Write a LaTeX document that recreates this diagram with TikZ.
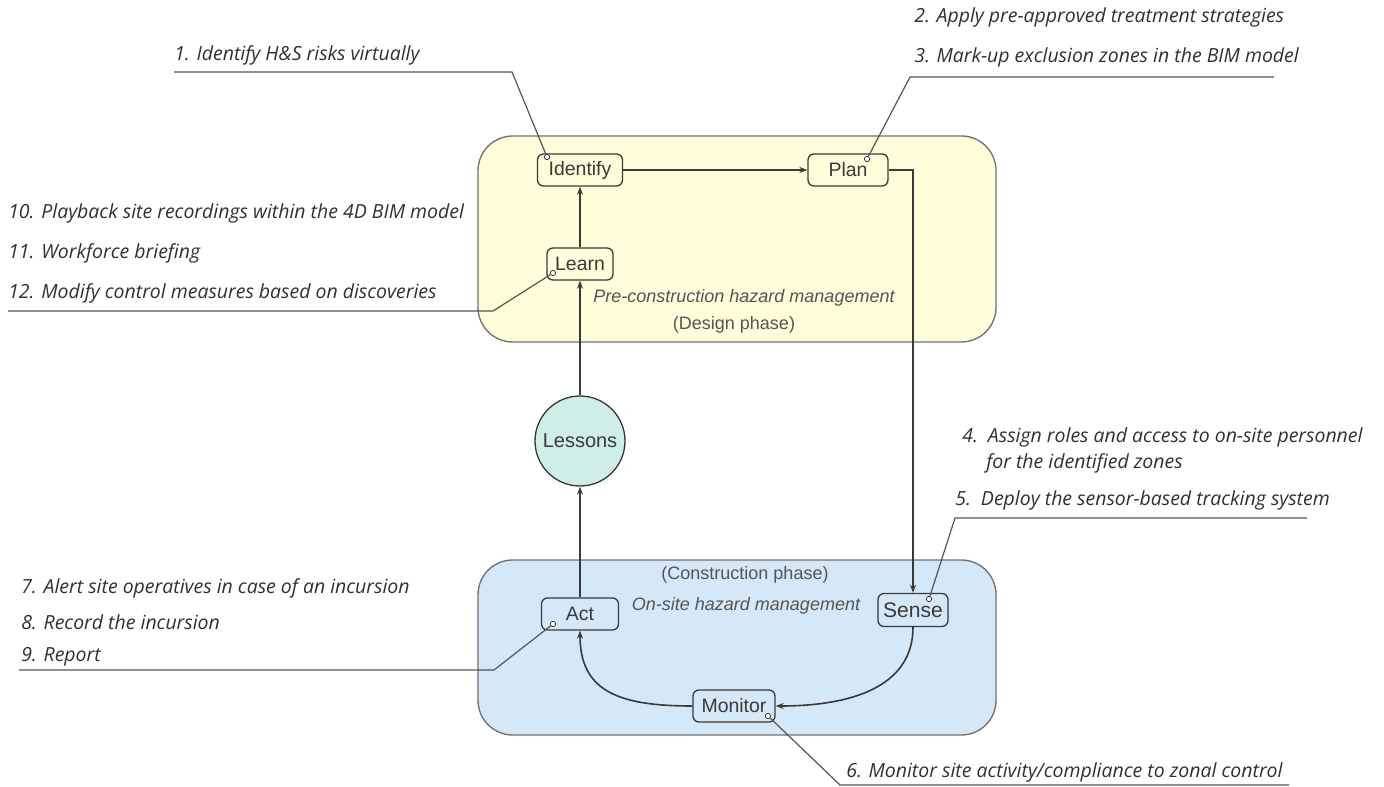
\documentclass[tikz,border=0pt]{standalone}
\usepackage{fontspec}
\setmainfont{Liberation Sans}
\newfontfamily\notefont{Open Sans}
\usepackage{xcolor}
\definecolor{designyellow}{HTML}{FFFDDA}
\definecolor{siteblue}{HTML}{D5E8F8}
\definecolor{lessonteal}{HTML}{CFEEE8}
\definecolor{panelgray}{HTML}{707070}
\definecolor{boxgray}{HTML}{3A3A3A}
\definecolor{capgray}{HTML}{555555}
\definecolor{notegray}{HTML}{303030}
\usetikzlibrary{arrows.meta,positioning,calc}

\begin{document}
\begin{tikzpicture}[x=0.75pt,y=-0.75pt,
  panel/.style={draw=panelgray,line width=1pt,rounded corners=26pt,minimum width=388.5pt},
  stepbox/.style={draw=boxgray,line width=1pt,rounded corners=4.5pt,text=boxgray,
        font=\fontsize{14.6}{16}\selectfont,minimum height=24pt,inner sep=2pt},
  caption/.style={text=capgray,font=\fontsize{13.5}{15}\selectfont},
  flow/.style={draw=boxgray,line width=1.2pt,-{Stealth[length=6pt,width=4.5pt]}},
  note/.style={text=notegray,font=\notefont\itshape\fontsize{14.6}{16}\selectfont,
        anchor=west,inner sep=0pt},
  leader/.style={draw=capgray,line width=0.9pt},
  pin/.style={circle,draw=boxgray,fill=white,line width=0.6pt,inner sep=0pt,minimum size=4pt}]
  \useasboundingbox (0,0) rectangle (1384,787);

  % Phase panels
  \node[panel,fill=designyellow,minimum height=154.5pt] (design) at (737,239) {};
  \node[panel,fill=siteblue,minimum height=131.25pt] (site) at (737,647.5) {};
  \node[caption,font=\itshape\fontsize{13.5}{15}\selectfont] (precap) at (744,298)
        {Pre-construction hazard management};
  \node[caption] (descap) at (734,325) {(Design phase)};
  \node[caption] (concap) at (745,575) {(Construction phase)};
  \node[caption,font=\itshape\fontsize{13.5}{15}\selectfont] (oncap) at (746,606)
        {On-site hazard management};

  % Cycle steps
  \node[stepbox,minimum width=63.75pt] (identify) at (580,170) {Identify};
  \node[stepbox,minimum width=60pt] (plan) at (848,170) {Plan};
  \node[stepbox,minimum width=49.5pt] (learn) at (580,264) {Learn};
  \node[circle,draw=boxgray,line width=1pt,fill=lessonteal,text=boxgray,inner sep=0pt,
        minimum size=67.5pt,font=\fontsize{15}{16}\selectfont] (lessons) at (580,441) {Lessons};
  \node[stepbox,minimum width=57.75pt] (act) at (580,614) {Act};
  \node[stepbox,minimum width=52.5pt,minimum height=24.75pt,
        font=\fontsize{15.8}{17}\selectfont] (sense) at (913,610) {Sense};
  \node[stepbox,minimum width=61.5pt] (monitor) at (734,706) {Monitor};

  \draw[flow] (identify) -- (plan);
  \draw[flow] (plan.east) -| (sense.north);
  \draw[flow] (sense.south) .. controls +(0,60) and +(75,0) .. (monitor.east);
  \draw[flow] (monitor.west) .. controls +(-75,0) and +(0,60) .. (act.south);
  \draw[flow] (act) -- (lessons);
  \draw[flow] (lessons) -- (learn);
  \draw[flow] (learn) -- (identify);

  % Callouts
  \node[note] (n1) at (174,55) {1. Identify H\&S risks virtually};
  \node[note] (n2) at (914,17) {2. Apply pre-approved treatment strategies};
  \node[note] (n3) at (914,57) {3. Mark-up exclusion zones in the BIM model};
  \node[note] (n4) at (962,437) {4.\ \ Assign roles and access to on-site personnel};
  \node[note] (n4b) at (986,463) {for the identified zones};
  \node[note] (n5) at (955,500) {5.\ \ Deploy the sensor-based tracking system};
  \node[note] (n6) at (846,772) {6. Monitor site activity/compliance to zonal control};
  \node[note] (n7) at (21,588) {7. Alert site operatives in case of an incursion};
  \node[note] (n8) at (21,622) {8. Record the incursion};
  \node[note] (n9) at (21,657) {9. Report};
  \node[note] (n10) at (8,213) {10. Playback site recordings within the 4D BIM model};
  \node[note] (n11) at (8,253) {11. Workforce briefing};
  \node[note] (n12) at (8,293) {12. Modify control measures based on discoveries};

  \node[pin] (pin1) at (547,157) {};
  \node[pin] (pin3) at (867,159) {};
  \node[pin] (pin5) at (929,599) {};
  \node[pin] (pin6) at (768,716) {};
  \node[pin] (pin9) at (553,624) {};
  \node[pin] (pin12) at (553,273) {};

  \coordinate (u1) at (174,72);   \coordinate (k1) at (512,72);
  \coordinate (u3) at (1274,77);  \coordinate (k3) at (910,77);
  \coordinate (u5) at (1307,518); \coordinate (k5) at (955,518);
  \coordinate (u6) at (1289,785); \coordinate (k6) at (840,785);
  \coordinate (u9) at (19,670);   \coordinate (k9) at (494,670);
  \coordinate (u12) at (8,311);   \coordinate (k12) at (493,311);
  \draw[leader] (u1) -- (k1) -- (pin1);
  \draw[leader] (u3) -- (k3) -- (pin3);
  \draw[leader] (u5) -- (k5) -- (pin5);
  \draw[leader] (u6) -- (k6) -- (pin6);
  \draw[leader] (u9) -- (k9) -- (pin9);
  \draw[leader] (u12) -- (k12) -- (pin12);
\end{tikzpicture}
\end{document}
